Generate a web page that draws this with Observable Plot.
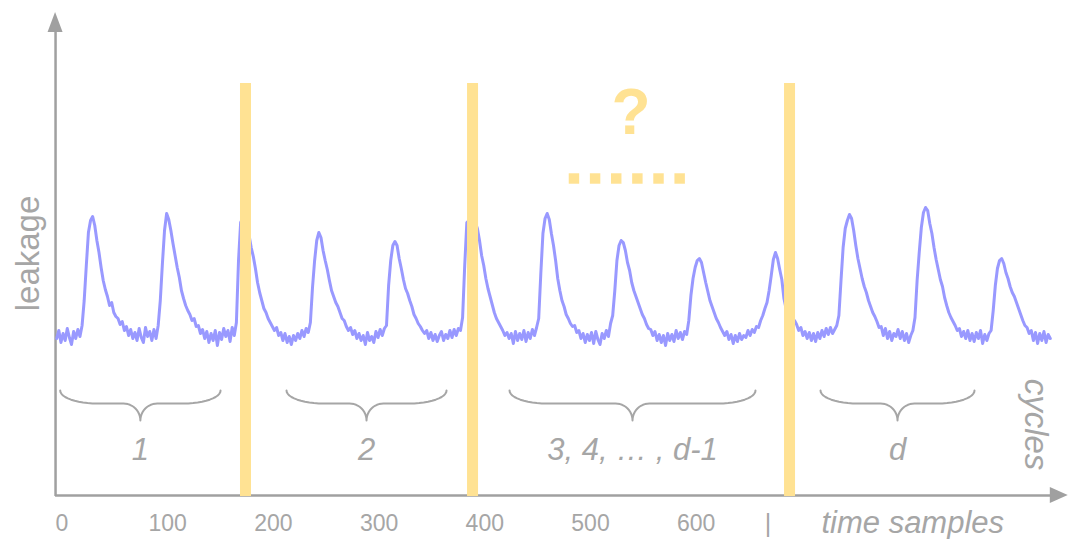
<!DOCTYPE html>
<html><head><meta charset="utf-8">
<script src="https://cdn.jsdelivr.net/npm/d3@7"></script>
<script src="https://cdn.jsdelivr.net/npm/@observablehq/plot@0.6"></script>
<style>
html,body{margin:0;padding:0;background:#fff;}
#chart{width:1068px;height:539px;overflow:hidden;}
</style></head><body><div id="chart"></div>
<script>
// leakage trace, one value every 2 time samples, starting at sample -5
const leakage = [
157,165,153,162,155,167,158,151,164,157,
166,159,170,195,230,263,275,279,270,255,
243,228,215,206,199,190,193,183,179,177,
171,174,165,169,160,166,157,163,155,167,
158,153,168,159,164,155,166,157,170,195,
232,265,282,276,265,252,240,228,218,205,
197,190,185,181,175,177,169,170,162,166,
157,164,153,162,155,165,150,163,156,167,
159,165,154,168,160,173,235,273,277,277,
270,260,248,239,227,213,203,195,187,183,
177,173,169,165,168,160,163,155,162,153,
159,151,160,155,162,157,165,159,167,163,
173,208,235,255,263,258,245,235,226,215,
205,199,193,189,183,177,175,169,165,168,
161,165,157,162,155,160,151,163,155,159,
153,164,158,166,160,167,170,210,235,250,
254,250,237,227,216,207,202,195,189,181,
177,172,169,165,162,165,157,163,155,161,
154,160,164,155,161,157,165,158,166,160,
167,165,178,230,273,275,275,274,273,267,
255,240,230,217,207,199,191,183,177,173,
169,165,160,163,157,162,152,164,155,162,
156,165,154,163,157,166,160,168,177,222,
262,277,282,276,262,250,235,217,205,195,
189,181,177,172,169,170,163,165,157,162,
153,161,155,163,152,164,156,151,162,157,
165,159,172,180,205,235,250,255,253,245,
233,225,213,205,199,193,187,181,177,171,
167,166,160,164,155,161,153,160,150,162,
155,161,154,165,157,163,156,164,161,175,
200,217,228,235,237,233,223,213,204,195,
189,183,177,173,168,164,160,164,156,161,
152,160,154,162,156,160,158,165,160,166,
163,169,168,175,180,187,193,205,220,236,
243,237,226,216,197,187,182,179,177,175,
171,165,168,160,164,157,163,155,162,154,
163,157,165,159,167,161,168,162,166,170,
180,215,248,267,275,281,277,265,250,237,
227,217,209,203,195,189,183,179,174,168,
169,160,167,157,164,155,162,159,166,157,
164,155,162,153,160,165,178,215,243,268,
283,288,285,272,262,248,236,226,216,209,
198,190,183,178,174,170,165,167,159,164,
157,165,155,162,154,163,157,165,152,161,
155,162,165,185,210,227,235,237,232,223,
217,209,203,199,193,187,181,175,170,168,
162,165,155,163,152,162,155,164,153,161,
157
];
const sampleStart = -5;
const sampleStep = 2;
const cycleCuts = [173.6, 388.4, 688.3];
const cycleSpans = [[-1.7, 150], [212.4, 363.8], [423.4, 656.1], [717.6, 863.3]];
const cycleLabels = ["1", "2", "3, 4, \u2026 , d-1", "d"];
const tickValues = [0, 100, 200, 300, 400, 500, 600];
const ellipsisSlots = [-2.5, -1.5, -0.5, 0.5, 1.5, 2.5];

const trace = leakage.map((v, i) => ({t: sampleStart + i * sampleStep, v}));

const braceRows = [];
cycleSpans.forEach(([a, b], k) => {
  const m = (a + b) / 2, rx = 35, rx2 = 16, top = 105, mid = 92, tip = 75, n = 12;
  for (let j = 0; j <= n; j++) { const th = j / n * Math.PI / 2; braceRows.push({k, x: a + rx - rx * Math.cos(th), y: top - (top - mid) * Math.sin(th)}); }
  for (let j = 0; j <= n; j++) { const ph = j / n * Math.PI / 2; braceRows.push({k, x: m - rx2 + rx2 * Math.sin(ph), y: tip + (mid - tip) * Math.cos(ph)}); }
  for (let j = n; j >= 0; j--) { const ph = j / n * Math.PI / 2; braceRows.push({k, x: m + rx2 - rx2 * Math.sin(ph), y: tip + (mid - tip) * Math.cos(ph)}); }
  for (let j = n; j >= 0; j--) { const th = j / n * Math.PI / 2; braceRows.push({k, x: b - rx + rx * Math.cos(th), y: top - (top - mid) * Math.sin(th)}); }
});
const braceLabelRows = cycleSpans.map(([a, b], i) => ({x: (a + b) / 2, text: cycleLabels[i]}));

const AX = "#a0a0a0";
const TXT = "#a6a6a6";
const YEL = "#ffe293";
const LINE = "#9999ff";
const SANS = "Liberation Sans, Arial, sans-serif";
const NARROW = "Liberation Sans Narrow, Arial Narrow, Liberation Sans, sans-serif";
const mid23 = (cycleCuts[1] + cycleCuts[2]) / 2;

const upArrow = [{x: -13.2, y: 463}, {x: -6.1, y: 483}, {x: 1.0, y: 463}];
const rightArrow = [{y: -8, x: 935}, {y: 0, x: 952}, {y: 8, x: 935}];

const chart = Plot.plot({
  width: 1068,
  height: 539,
  marginTop: 0, marginRight: 0, marginBottom: 0, marginLeft: 0,
  x: {domain: [0, 600], range: [61.5, 695.7], axis: null},
  y: {domain: [0, 483], range: [495, 12], axis: null},
  style: {background: "#fff", overflow: "visible"},
  marks: [
    // axes
    Plot.ruleX([-6.1], {y1: -1, y2: 466, stroke: AX, strokeWidth: 2.5}),
    Plot.ruleY([0], {x1: -6.1, x2: 938, stroke: AX, strokeWidth: 2.5}),
    Plot.areaY(upArrow, {x: "x", y1: 463, y2: "y", fill: AX}),
    Plot.areaX(rightArrow, {y: "y", x1: 935, x2: "x", fill: AX}),
    // trace
    Plot.line(trace, {x: "t", y: "v", stroke: LINE, strokeWidth: 3, strokeLinejoin: "round"}),
    // cycle boundaries
    Plot.ruleX(cycleCuts, {y1: -1, y2: 412, stroke: YEL, strokeWidth: 11}),
    // braces
    Plot.line(braceRows, {x: "x", y: "y", z: "k", stroke: "#a6a6a6", strokeWidth: 2}),
    Plot.text(braceLabelRows, {x: "x", y: 45, text: "text", fill: TXT, fontSize: 31, fontStyle: "italic", fontFamily: SANS}),
    // question and ellipsis
    Plot.text(["?"], {x: mid23, y: 362, text: d => d, lineAnchor: "bottom", fill: YEL, fontSize: 64, fontWeight: "bold", fontFamily: SANS}),
    Plot.dot(ellipsisSlots, {x: d => mid23 - 4 + d * 20, y: 317, symbol: "square", r: 5.9, fill: YEL, stroke: null}),
    // x tick labels
    Plot.text(tickValues, {x: d => d, y: -28, text: d => String(d), fill: TXT, fontSize: 23, fontFamily: NARROW}),
    Plot.text(["|"], {x: 668, y: -28, text: d => d, fill: TXT, fontSize: 25, fontFamily: NARROW}),
    Plot.text(["time samples"], {x: 718.5, y: -28, text: d => d, textAnchor: "start", fill: TXT, fontSize: 31, fontStyle: "italic", fontFamily: SANS}),
    // axis titles
    Plot.text(["leakage"], {x: -31.7, y: 242, text: d => d, rotate: -90, fill: TXT, fontSize: 33, fontFamily: SANS}),
    Plot.text(["cycles"], {x: 921, y: 71, text: d => d, rotate: 90, fill: TXT, fontSize: 33, fontStyle: "italic", fontFamily: SANS})
  ]
});
document.getElementById("chart").appendChild(chart);
</script>
</body></html>
